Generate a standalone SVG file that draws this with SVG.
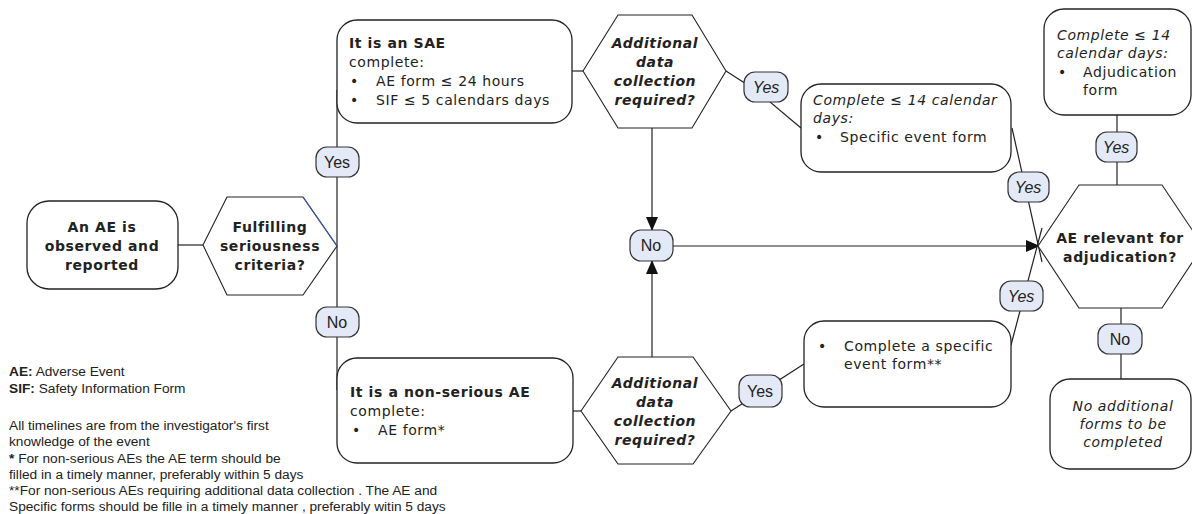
<svg xmlns="http://www.w3.org/2000/svg" width="1192" height="514" viewBox="0 0 1192 514">
<defs>
<style>
.box{fill:#fff;stroke:#222;stroke-width:1.3}
.hex{fill:#fff;stroke:#222;stroke-width:1.1}
.pill{fill:#e4e9f7;stroke:#333;stroke-width:1.2}
.ln{stroke:#222;stroke-width:1.2;fill:none}
.t{font-family:"DejaVu Sans",Verdana,sans-serif;font-size:14px;letter-spacing:0.6px;fill:#222}
.b{font-weight:bold}
.i{font-style:italic}
.c{text-anchor:middle}
.p{font-family:"Liberation Sans",Arial,sans-serif;font-size:16px;fill:#222;text-anchor:middle}
.f{font-family:"Liberation Sans",Arial,sans-serif;font-size:13.7px;fill:#222}
</style>
<marker id="arr" markerWidth="14" markerHeight="12" refX="13" refY="6" orient="auto" markerUnits="userSpaceOnUse">
<path d="M0,0 L14,6 L0,12 Z" fill="#111"/>
</marker>
</defs>

<g id="connectors">
<line class="ln" x1="178" y1="245" x2="203" y2="245"/>
<line class="ln" x1="337" y1="90" x2="337" y2="390"/>
<line class="ln" x1="572" y1="71" x2="583" y2="71"/>
<line class="ln" x1="573" y1="411" x2="581" y2="411"/>
<line class="ln" x1="652" y1="128" x2="652" y2="230" marker-end="url(#arr)"/>
<line class="ln" x1="652" y1="357" x2="652" y2="261" marker-end="url(#arr)"/>
<line class="ln" x1="673" y1="246" x2="1039" y2="246" marker-end="url(#arr)"/>
<polyline class="ln" points="726,71 757,91 801,128"/>
<line class="ln" x1="731" y1="411" x2="804" y2="364"/>
<line class="ln" x1="1012" y1="128" x2="1042" y2="262"/>
<line class="ln" x1="1011" y1="345" x2="1042" y2="228"/>
<line class="ln" x1="1117" y1="115" x2="1117" y2="185"/>
<line class="ln" x1="1121" y1="308" x2="1121" y2="379"/>
</g>

<g id="n-observed">
<rect class="box" x="27" y="201" width="151" height="88" rx="22"/>
<text class="t b c" x="102" y="232">An AE is</text>
<text class="t b c" x="102" y="251">observed and</text>
<text class="t b c" x="102" y="270">reported</text>
</g>

<g id="n-fulfilling">
<polygon class="hex" points="203,245 227,197 303,197 337,246 303,295 227,295"/>
<line x1="303" y1="197" x2="337" y2="246" stroke="#3a5aa8" stroke-width="1.2"/>
<text class="t b c" x="270" y="232">Fulfilling</text>
<text class="t b c" x="270" y="251">seriousness</text>
<text class="t b c" x="270" y="270">criteria?</text>
</g>

<g id="n-sae">
<rect class="box" x="337" y="20" width="235" height="103" rx="20"/>
<text class="t b" x="349" y="48">It is an SAE</text>
<text class="t" x="349" y="67">complete:</text>
<text class="t" x="350" y="86">•</text>
<text class="t" x="376" y="86">AE form ≤ 24 hours</text>
<text class="t" x="350" y="105">•</text>
<text class="t" x="376" y="105">SIF ≤ 5 calendars days</text>
</g>

<g id="n-nonserious">
<rect class="box" x="337" y="358" width="236" height="105" rx="20"/>
<text class="t b" x="350" y="397">It is a non-serious AE</text>
<text class="t" x="350" y="416">complete:</text>
<text class="t" x="352" y="435">•</text>
<text class="t" x="378" y="435">AE form*</text>
</g>

<g id="n-add-top">
<polygon class="hex" points="583,71 618,15 692,15 726,71 692,128 618,128"/>
<text class="t b i c" x="655" y="48">Additional</text>
<text class="t b i c" x="655" y="67">data</text>
<text class="t b i c" x="655" y="86">collection</text>
<text class="t b i c" x="655" y="105">required?</text>
</g>

<g id="n-add-bottom">
<polygon class="hex" points="581,411 618,357 693,357 731,411 693,464 618,464"/>
<text class="t b i c" x="655" y="388">Additional</text>
<text class="t b i c" x="655" y="407">data</text>
<text class="t b i c" x="655" y="426">collection</text>
<text class="t b i c" x="655" y="445">required?</text>
</g>

<g id="n-specific-top">
<rect class="box" x="801" y="84" width="210" height="88" rx="20"/>
<text class="t i" x="813" y="105">Complete ≤ 14 calendar</text>
<text class="t i" x="813" y="123">days:</text>
<text class="t" x="815" y="142">•</text>
<text class="t" x="840" y="142">Specific event form</text>
</g>

<g id="n-specific-bottom">
<rect class="box" x="804" y="321" width="207" height="86" rx="20"/>
<text class="t" x="818" y="351">•</text>
<text class="t" x="844" y="351">Complete a specific</text>
<text class="t" x="844" y="369">event form**</text>
</g>

<g id="n-adjudication-form">
<rect class="box" x="1044" y="9" width="147" height="106" rx="20"/>
<text class="t i" x="1057" y="40">Complete ≤ 14</text>
<text class="t i" x="1057" y="58">calendar days:</text>
<text class="t" x="1058" y="77">•</text>
<text class="t" x="1083" y="77">Adjudication</text>
<text class="t" x="1083" y="95">form</text>
</g>

<g id="n-relevant">
<polygon class="hex" points="1038,246 1079,185 1162,185 1203,246 1162,308 1079,308"/>
<text class="t b c" x="1120" y="243">AE relevant for</text>
<text class="t b c" x="1120" y="262">adjudication?</text>
</g>

<g id="n-noforms">
<rect class="box" x="1050" y="379" width="141" height="90" rx="20"/>
<text class="t i c" x="1123" y="411">No additional</text>
<text class="t i c" x="1123" y="429">forms to be</text>
<text class="t i c" x="1123" y="447">completed</text>
</g>

<g id="labels">
<rect class="pill" x="316" y="147" width="43" height="30" rx="11"/>
<text class="p" x="337" y="168">Yes</text>
<rect class="pill" x="316" y="307" width="43" height="30" rx="11"/>
<text class="p" x="337" y="328">No</text>
<rect class="pill" x="744" y="72" width="44" height="30" rx="11"/>
<text class="p i" x="766" y="93">Yes</text>
<rect class="pill" x="630" y="230" width="43" height="31" rx="11"/>
<text class="p" x="651" y="251">No</text>
<rect class="pill" x="739" y="375" width="43" height="32" rx="11"/>
<text class="p" x="760" y="397">Yes</text>
<rect class="pill" x="1008" y="172" width="41" height="30" rx="11"/>
<text class="p i" x="1028" y="193">Yes</text>
<rect class="pill" x="1000" y="281" width="43" height="30" rx="11"/>
<text class="p i" x="1021" y="302">Yes</text>
<rect class="pill" x="1096" y="132" width="41" height="30" rx="11"/>
<text class="p i" x="1116" y="153">Yes</text>
<rect class="pill" x="1098" y="324" width="44" height="30" rx="11"/>
<text class="p" x="1120" y="345">No</text>
</g>

<g id="legend">
<text class="f" x="9" y="376"><tspan font-weight="bold">AE:</tspan> Adverse Event</text>
<text class="f" x="9" y="393"><tspan font-weight="bold">SIF:</tspan> Safety Information Form</text>
<text class="f" x="9" y="430">All timelines are from the investigator's first</text>
<text class="f" x="9" y="446">knowledge of the event</text>
<text class="f" x="9" y="462.5"><tspan font-weight="bold">*</tspan> For non-serious AEs the AE term should be</text>
<text class="f" x="9" y="479">filled in a timely manner, preferably within 5 days</text>
<text class="f" x="9" y="495">**For non-serious AEs requiring additional data collection . The AE and</text>
<text class="f" x="9" y="511">Specific forms should be fille in a timely manner , preferably witin 5 days</text>
</g>
</svg>
